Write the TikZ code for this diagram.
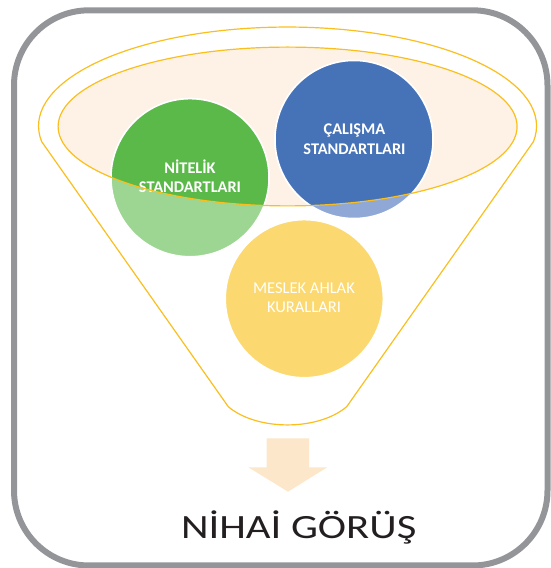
\documentclass[tikz,border=0pt]{standalone}
\usepackage{fontspec}
\setmainfont{Carlito}
\definecolor{framegray}{RGB}{148,149,152}
\definecolor{funnelgold}{RGB}{250,191,30}
\definecolor{bowlfill}{RGB}{254,242,230}
\definecolor{greenD}{RGB}{91,185,74}
\definecolor{greenL}{RGB}{157,213,146}
\definecolor{blueD}{RGB}{70,114,184}
\definecolor{blueL}{RGB}{143,168,214}
\definecolor{yellowL}{RGB}{252,216,112}
\definecolor{arrowfill}{RGB}{253,231,203}
\definecolor{titletext}{RGB}{35,31,32}
\begin{document}
\begin{tikzpicture}[x=1pt,y=1pt,
  ball/.style={circle, minimum size=158pt, inner sep=0pt, draw=white, line width=1.5pt},
  boldlbl/.style={text=white, font=\bfseries\fontsize{16.3}{19}\selectfont, inner sep=0pt, anchor=base},
  plainlbl/.style={text=white, font=\fontsize{16.5}{19}\selectfont, inner sep=0pt, anchor=base},
  goldline/.style={draw=funnelgold, line width=1.2pt}]
\useasboundingbox (0,0) rectangle (550,568);

% outer frame
\draw[framegray, line width=6pt, rounded corners=75pt] (14,2.5) rectangle (547.5,557.7);

% funnel body
\draw[goldline, line join=round]
  (41.7,426.3) arc[start angle=189.1, end angle=-9.1, x radius=249, y radius=99]
  -- (346.7,161.3) .. controls (318,137) and (257,137) .. (228.3,161.3) -- cycle;

% bowl of the funnel
\fill[bowlfill] (287.6,441.5) ellipse[x radius=229.5, y radius=79.4];

% the three circles (pale tone outside the bowl)
\node[ball, fill=greenL]  (green)  at (190,390.3) {};
\node[ball, fill=blueL]   (blue)   at (354,428.5) {};
\node[ball, fill=yellowL] (yellow) at (304.3,269.3) {};

% full tone inside the bowl
\begin{scope}
  \clip (287.6,441.5) ellipse[x radius=229.5, y radius=79.4];
  \fill[greenD, draw=white, line width=1.5pt] (green.center) circle[radius=79];
  \fill[blueD, draw=white, line width=1.5pt] (blue.center) circle[radius=79];
\end{scope}

% circle captions
\node[boldlbl] (greenA) at (190,394.7) {NİTELİK};
\node[boldlbl] (greenB) at (190,375.3) {STANDARTLARI};
\node[boldlbl] (blueA) at (354.5,433) {ÇALIŞMA};
\node[boldlbl] (blueB) at (354.5,413.7) {STANDARTLARI};
\node[plainlbl] (yellowA) at (304,274) {MESLEK AHLAK};
\node[plainlbl] (yellowB) at (304,255.3) {KURALLARI};

% rim of the bowl
\draw[goldline] (287.6,441.5) ellipse[x radius=229.5, y radius=79.4];

% downward block arrow
\fill[arrowfill] (266.7,129.7) -- (309,129.7) -- (309,100.7) -- (327.3,100.7)
  -- (288,76.3) -- (248.3,100.7) -- (266.7,100.7) -- cycle;

% result caption
\node[text=titletext, font=\fontsize{34}{40}\selectfont, inner sep=0pt, anchor=base]
  (result) at (298.7,29.7) {\scalebox{1.255}[1]{NİHAİ GÖRÜŞ}};
\end{tikzpicture}
\end{document}
